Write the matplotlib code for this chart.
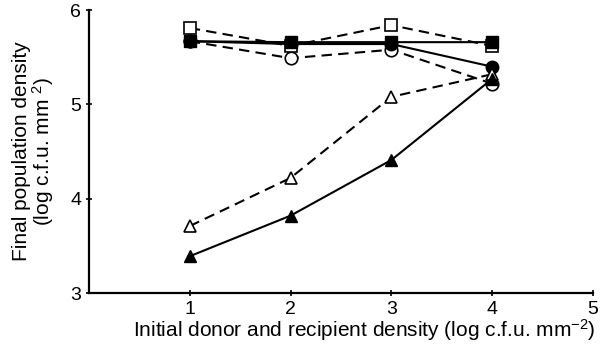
import matplotlib
matplotlib.use("Agg")
import matplotlib.pyplot as plt

plt.rcParams['font.family'] = ['Liberation Sans', 'DejaVu Sans']
plt.rcParams['mathtext.fontset'] = 'custom'
plt.rcParams['mathtext.rm'] = 'Liberation Sans'
plt.rcParams['mathtext.it'] = 'Liberation Sans'

x = [1, 2, 3, 4]
filled_square = [5.67, 5.66, 5.66, 5.66]
open_square = [5.81, 5.62, 5.84, 5.62]
filled_circle = [5.67, 5.64, 5.64, 5.40]
open_circle = [5.67, 5.49, 5.58, 5.22]
open_triangle = [3.71, 4.22, 5.08, 5.32]
filled_triangle = [3.39, 3.82, 4.41, 5.27]

fig = plt.figure(figsize=(6.05, 3.48), dpi=100)
ax = fig.add_axes([0.147, 0.158, 0.833, 0.813])

ms = 9
lw = 1.5
dash = (5, 3)
ax.plot(x, open_circle, '--', color='black', lw=lw, dashes=dash, marker='o', ms=ms,
        mfc='white', mec='black', mew=1.2)
ax.plot(x, filled_circle, '-', color='black', lw=lw, marker='o', ms=ms,
        mfc='black', mec='black')
ax.plot(x, open_square, '--', color='black', lw=lw, dashes=dash, marker='s', ms=ms,
        mfc='white', mec='black', mew=1.2)
ax.plot(x, filled_square, '-', color='black', lw=lw, marker='s', ms=ms,
        mfc='black', mec='black')
ax.plot(x, open_triangle, '--', color='black', lw=lw, dashes=dash, marker='^', ms=ms,
        mfc='white', mec='black', mew=1.2)
ax.plot(x, filled_triangle, '-', color='black', lw=lw, marker='^', ms=ms,
        mfc='black', mec='black')

ax.set_xlim(0, 5)
ax.set_ylim(3, 6)
ax.set_xticks([1, 2, 3, 4, 5])
ax.set_yticks([3, 4, 5, 6])
for s in ['top', 'right']:
    ax.spines[s].set_visible(False)
for s in ['left', 'bottom']:
    ax.spines[s].set_linewidth(1.6)
ax.tick_params(axis='both', direction='inout', length=5, width=1.2, labelsize=14, pad=3)

ax.set_xlabel('Initial donor and recipient density (log c.f.u. mm$^{\\mathregular{-2}}$)',
              fontsize=15, labelpad=1)
ax.xaxis.set_label_coords(0.546, -0.085, transform=ax.transAxes)
ax.xaxis.label.set_va('top')
ax.set_ylabel('Final population density\n(log c.f.u. mm $^{\\mathregular{2}}$)',
              fontsize=15, labelpad=10, linespacing=1.0)

fig.savefig('out.png', dpi=100)
